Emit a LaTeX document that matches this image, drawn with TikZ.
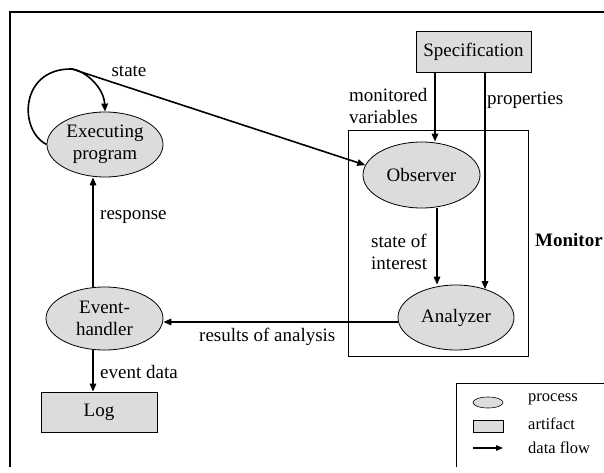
\documentclass[tikz,border=0pt]{standalone}
\usepackage{fontspec}
\setmainfont{Liberation Serif}
\usetikzlibrary{shapes.geometric,arrows.meta}
\definecolor{shade}{RGB}{220,220,220}
\begin{document}
\begin{tikzpicture}[x=1pt,y=-1pt,
  every node/.style={font=\fontsize{19}{22}\selectfont},
  proc/.style={ellipse,draw,fill=shade,line width=0.8pt,inner sep=0pt,align=center},
  art/.style={rectangle,draw,fill=shade,line width=0.8pt,inner sep=0pt,align=center},
  flow/.style={line width=1.6pt,-{Triangle[length=8pt,width=6.5pt]}},
  lbl/.style={inner sep=0pt,anchor=west,align=left},
  leg/.style={inner sep=0pt,anchor=west,font=\fontsize{16.5}{19}\selectfont},
]
\useasboundingbox (0,0) rectangle (604,473);
% outer frame
\draw[line width=1.8pt] (10,467) -- (10,12) -- (604,12);
% monitor box
\node[draw,line width=0.8pt,minimum width=180pt,minimum height=226pt,inner sep=0pt] (mon) at (438,243) {};
% nodes
\node[art,minimum width=115pt,minimum height=41pt] (spec) at (473.5,51.5) {Specification};
\node[proc,minimum width=117pt,minimum height=66pt] (obs) at (421.5,175) {Observer};
\node[proc,minimum width=116pt,minimum height=65pt] (an) at (456,317.5) {Analyzer};
\node[proc,minimum width=116pt,minimum height=65pt] (exec) at (105,144.5) {Executing\\program};
\node[proc,minimum width=117pt,minimum height=63pt] (eh) at (104.5,318.5) {Event-\\handler};
\node[art,minimum width=116pt,minimum height=40pt] (log) at (99,412) {Log};
% helper coordinates
\coordinate (xa) at (435,0);
\coordinate (xb) at (437,0);
\coordinate (xp) at (485,0);
\coordinate (xr) at (93,0);
\coordinate (yr) at (0,322);
\coordinate (lt) at (72,69);
% connectors
\draw[flow] (spec.south -| xa) -- (obs.north -| xa);
\draw[flow] (spec.south -| xp) -- (an.44 -| xp);
\draw[flow] (obs.south -| xb) -- (an.north -| xb);
\draw[flow] (an.west |- yr) -- (eh.east |- yr);
\draw[flow] (eh.north -| xr) -- (exec.south -| xr);
\draw[flow] (eh.south -| xr) -- (log.north -| xr);
\draw[line width=1.6pt] (exec.west) .. controls (18,130) and (20,68) .. (lt);
\draw[flow] (lt) .. controls (86,71) and (104,88) .. (exec.north);
\draw[flow] (lt) -- (obs.170);
% labels
\node[inner sep=0pt] (lstate) at (129,71) {state};
\node[lbl] (lmon) at (349,106) {monitored\\variables};
\node[lbl] (lprop) at (487,100) {properties};
\node[lbl] (lsoi) at (371,251.5) {state of\\interest};
\node[lbl,font=\fontsize{19}{22}\selectfont\bfseries] (lmonitor) at (535,240) {Monitor};
\node[lbl] (lres) at (199,337) {results of analysis};
\node[lbl] (lresp) at (100,217) {response};
\node[lbl] (levd) at (100,372) {event data};
% legend
\draw[line width=0.8pt] (456,467) -- (456,383) -- (604,383);
\node[ellipse,draw,fill=shade,minimum width=30pt,minimum height=11pt,inner sep=0pt,line width=0.6pt] (lp) at (488,402.5) {};
\node[art,line width=0.6pt,minimum width=30pt,minimum height=12pt] (la) at (488,426) {};
\coordinate (lf1) at (473,448);
\coordinate (lf2) at (503,448);
\draw[line width=1.3pt,-{Triangle[length=7pt,width=5.5pt]}] (lf1) -- (lf2);
\node[leg] (tp) at (528,399) {process};
\node[leg] (ta) at (528,424) {artifact};
\node[leg] (tf) at (528,448) {data flow};
\end{tikzpicture}
\end{document}
